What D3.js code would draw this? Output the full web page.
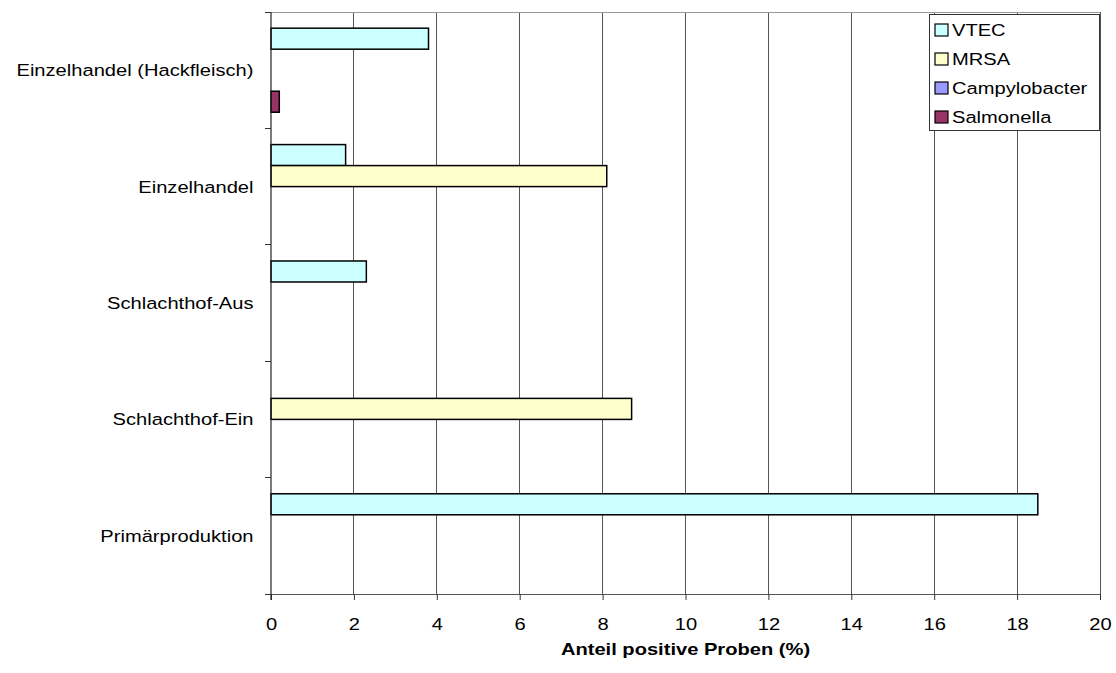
<!DOCTYPE html>
<html>
<head>
<meta charset="utf-8">
<script src="https://cdn.jsdelivr.net/npm/d3@7"></script>
<style>
  html, body { margin: 0; padding: 0; background: #fff; }
  svg { display: block; font-family: "Liberation Sans", Arial, sans-serif; }
</style>
</head>
<body>
<svg id="chart" width="1116" height="673"></svg>
<script>
// Categories, top to bottom
const categories = ["Einzelhandel (Hackfleisch)", "Einzelhandel", "Schlachthof-Aus", "Schlachthof-Ein", "Primärproduktion"];
// Series drawn within each group, top to bottom
const seriesNames = ["VTEC", "MRSA", "Campylobacter", "Salmonella"];
const seriesColors = ["#CCFFFF", "#FFFFCC", "#9999FF", "#993366"];
// Share of positive samples (%), one array per series, in category order (null = no bar)
const vtec          = [3.8, 1.8, 2.3, null, 18.5];
const mrsa          = [null, 8.1, null, 8.7, null];
const campylobacter = [null, null, null, null, null];
const salmonella    = [0.2, null, null, null, null];
const xTicks = [0, 2, 4, 6, 8, 10, 12, 14, 16, 18, 20];
const xTitle = "Anteil positive Proben (%)";

const seriesValues = [vtec, mrsa, campylobacter, salmonella];
const SX = 1.22;      // horizontal stretch of lettering
const FS = 16.5;      // font size

const svg = d3.select("#chart");
const plot = { left: 271, right: 1100, top: 12, bottom: 594 };

const x = d3.scaleLinear().domain([0, 20]).range([plot.left, plot.right]);
const y = d3.scaleBand().domain(categories).range([plot.top, plot.bottom]).padding(0);
const ys = d3.scaleBand().domain(seriesNames).range([0, y.bandwidth()])
  .paddingInner(0).paddingOuter(0.77);

// Vertical gridlines
svg.append("g").selectAll("line").data(xTicks.filter(d => d > 0)).join("line")
  .attr("x1", d => x(d)).attr("x2", d => x(d))
  .attr("y1", plot.top).attr("y2", plot.bottom)
  .attr("stroke", "#555").attr("stroke-width", 1).attr("shape-rendering", "crispEdges");

// Top border of plot area
svg.append("line")
  .attr("x1", plot.left - 6).attr("x2", plot.right)
  .attr("y1", plot.top).attr("y2", plot.top)
  .attr("stroke", "#999").attr("shape-rendering", "crispEdges");

// Bars
const barData = [];
seriesNames.forEach((s, si) => {
  categories.forEach((c, ci) => {
    const v = seriesValues[si][ci];
    if (v != null) barData.push({ s, c, v, color: seriesColors[si] });
  });
});
svg.append("g").selectAll("rect").data(barData).join("rect")
  .attr("x", x(0))
  .attr("y", d => y(d.c) + ys(d.s))
  .attr("width", d => x(d.v) - x(0))
  .attr("height", ys.bandwidth())
  .attr("fill", d => d.color)
  .attr("stroke", "#000").attr("stroke-width", 1.5);

// X axis
const xAxis = svg.append("g")
  .attr("transform", `translate(0,${plot.bottom})`)
  .call(d3.axisBottom(x).tickValues(xTicks).tickSize(6).tickSizeOuter(0).tickFormat(d3.format("d")));
xAxis.select(".domain").attr("stroke", "#555").attr("d", `M${plot.left - 6},0.5H${plot.right}`);
xAxis.selectAll(".tick line").attr("stroke", "#333");
xAxis.selectAll(".tick text")
  .attr("y", 36.5).attr("dy", null)
  .attr("transform", `scale(${SX},1)`)
  .attr("font-size", FS).attr("fill", "#000")
  .attr("font-family", "'Liberation Sans', Arial, sans-serif");

// Y axis line and tick marks at category boundaries
svg.append("line")
  .attr("x1", plot.left).attr("x2", plot.left)
  .attr("y1", plot.top).attr("y2", plot.bottom + 6)
  .attr("stroke", "#222").attr("stroke-width", 1.2);
const bounds = d3.range(categories.length + 1).map(i => plot.top + i * y.step());
svg.append("g").selectAll("line").data(bounds).join("line")
  .attr("x1", plot.left - 6).attr("x2", plot.left)
  .attr("y1", d => d).attr("y2", d => d)
  .attr("stroke", "#333").attr("shape-rendering", "crispEdges");

// Stretched text helper
function label(parent, tx, ty, text, anchor, weight) {
  parent.append("g")
    .attr("transform", `translate(${tx},${ty}) scale(${SX},1)`)
    .append("text")
    .attr("text-anchor", anchor)
    .attr("font-size", FS)
    .attr("font-weight", weight || "normal")
    .attr("fill", "#000")
    .text(text);
}

// Category labels
const catG = svg.append("g");
categories.forEach(c => {
  label(catG, 253.5, y(c) + y.bandwidth() / 2 + 5.9, c, "end");
});

// Axis title
label(svg, (plot.left + plot.right) / 2, 655, xTitle, "middle", "bold");

// Legend
const lg = svg.append("g");
lg.append("rect")
  .attr("x", 929.5).attr("y", 14.5).attr("width", 170).attr("height", 116)
  .attr("fill", "#fff").attr("stroke", "#333").attr("stroke-width", 1);
seriesNames.forEach((s, i) => {
  const cy = 30 + i * 29;
  lg.append("rect")
    .attr("x", 935).attr("y", cy - 6).attr("width", 13).attr("height", 12)
    .attr("fill", seriesColors[i]).attr("stroke", "#000").attr("stroke-width", 1.2);
  label(lg, 952, cy + 6, s, "start");
});
</script>
</body>
</html>
